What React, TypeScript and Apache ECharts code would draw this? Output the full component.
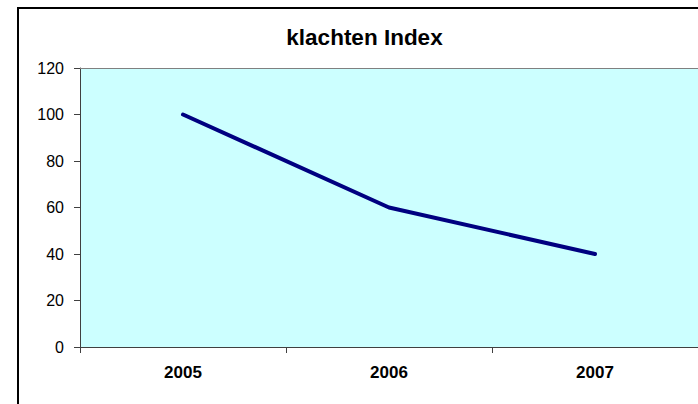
import React, { useEffect, useRef } from "react";
import * as echarts from "echarts";

const categories = ["2005", "2006", "2007"];
const indexValues = [100, 60, 40];
const titleText = "klachten Index";

const FONT = 'Arial, "Liberation Sans", sans-serif';

export default function App() {
  const ref = useRef<HTMLDivElement>(null);
  useEffect(() => {
    if (!ref.current) return;
    const chart = echarts.init(ref.current, null, { renderer: "svg" });
    chart.setOption({
      animation: false,
      backgroundColor: "#ffffff",
      grid: {
        left: 80,
        top: 68,
        right: 0,
        bottom: 57,
        show: true,
        backgroundColor: "#CCFFFF",
        borderWidth: 0,
      },
      graphic: [
        {
          type: "rect",
          shape: { x: 18, y: 8, width: 720, height: 440 },
          style: { fill: "none", stroke: "#000000", lineWidth: 2 },
          z: 100,
        },
        {
          type: "text",
          x: 364.5,
          y: 37,
          style: {
            text: titleText,
            textAlign: "center",
            textVerticalAlign: "middle",
            fontFamily: FONT,
            fontWeight: "bold",
            fontSize: 22.5,
            fill: "#000000",
          },
        },
      ],
      xAxis: [
        {
          type: "category",
          data: categories,
          boundaryGap: true,
          axisLine: { show: true, lineStyle: { color: "#404040", width: 1 } },
          axisTick: { show: true, length: 6, alignWithLabel: false, lineStyle: { color: "#404040" } },
          axisLabel: {
            fontFamily: FONT,
            fontWeight: "bold",
            fontSize: 17,
            color: "#000000",
            margin: 17,
          },
          splitLine: { show: false },
        },
        {
          type: "category",
          position: "top",
          data: categories,
          axisLine: { show: true, lineStyle: { color: "#808080", width: 1 } },
          axisTick: { show: false },
          axisLabel: { show: false },
          splitLine: { show: false },
        },
      ],
      yAxis: {
        type: "value",
        min: 0,
        max: 120,
        interval: 20,
        axisLine: { show: true, lineStyle: { color: "#404040", width: 1 } },
        axisTick: { show: true, length: 6, lineStyle: { color: "#404040" } },
        axisLabel: {
          fontFamily: FONT,
          fontSize: 16,
          color: "#000000",
          margin: 16,
        },
        splitLine: { show: false },
      },
      series: [
        {
          type: "line",
          data: indexValues,
          symbol: "none",
          lineStyle: { color: "#000080", width: 4, cap: "round", join: "round" },
        },
      ],
    });
    return () => chart.dispose();
  }, []);
  return (
    <div
      ref={ref}
      style={{ position: "fixed", left: 0, top: 0, width: 698, height: 404 }}
    />
  );
}
